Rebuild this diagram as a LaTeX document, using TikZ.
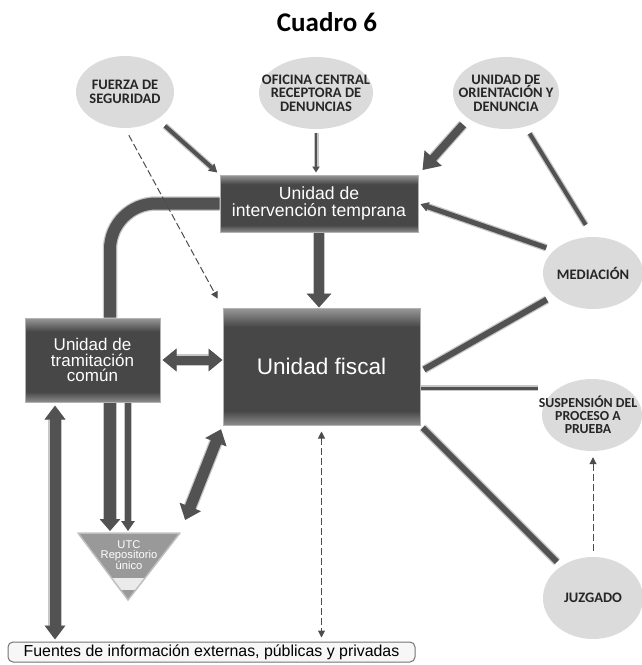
\documentclass[tikz,border=0pt]{standalone}
\usepackage{fontspec}
\setmainfont{Liberation Sans}
\newfontfamily\calfont{Carlito}
\usetikzlibrary{arrows.meta,shapes.geometric}

\pgfdeclareverticalshading{boxshade}{100bp}{color(0bp)=(black!45); color(25bp)=(black!45); color(31bp)=(black!72); color(67bp)=(black!72); color(75bp)=(black!40); color(100bp)=(black!40)}

\tikzset{
  bubble/.style={ellipse, fill=black!14, inner sep=0pt},
  bubbletext/.style={font=\calfont\bfseries\fontsize{14.5}{13.5}\selectfont, align=center, text=black!85, inner sep=0pt},
  darkbox/.style={rectangle, shading=boxshade, draw=black!30, line width=1pt, text=white, align=center, inner sep=0pt},
  fatline/.style={draw=black!68, line width=#1, preaction={draw=black!22, line width=#1+2.5pt}},
  fatline/.default=6pt,
  dashline/.style={draw=black!70, line width=1pt, dash pattern=on 7pt off 3pt},
}

\begin{document}
\begin{tikzpicture}[x=1pt, y=-1pt]

\useasboundingbox (0,0) rectangle (641,665);

\node (title) at (327,22) {\calfont\bfseries\fontsize{27}{27}\selectfont Cuadro 6};

%Bubbles
\node[bubble, minimum width=98pt, minimum height=72pt] (fuerza) at (125,92) {};
\node[bubbletext] (fuerzatext) at (fuerza) {FUERZA DE\\SEGURIDAD};
\node[bubble, minimum width=114pt, minimum height=72pt] (oficina) at (316,93) {};
\node[bubbletext] (oficinatext) at (oficina) {OFICINA CENTRAL\\RECEPTORA DE\\DENUNCIAS};
\node[bubble, minimum width=106pt, minimum height=72pt] (orient) at (506,93) {};
\node[bubbletext] (orienttext) at (orient) {UNIDAD DE\\ORIENTACIÓN Y\\DENUNCIA};
\node[bubble, minimum width=100pt, minimum height=72pt] (mediacion) at (593,273) {};
\node[bubbletext] (mediaciontext) at (mediacion) {MEDIACIÓN};
\node[bubble, minimum width=100pt, minimum height=72pt] (susp) at (592,415) {};
\node[bubbletext, font=\calfont\bfseries\fontsize{13.8}{13}\selectfont] (susptext) at ([xshift=-4pt]susp) {SUSPENSIÓN DEL\\PROCESO A\\PRUEBA};
\node[bubble, minimum width=100pt, minimum height=82pt] (juzgado) at (593,598) {};
\node[bubbletext] (juzgadotext) at (juzgado) {JUZGADO};

%Boxes
\node[darkbox, minimum width=198pt, minimum height=57pt, font=\fontsize{17.6}{17}\selectfont] (uit) at (319,203.5) {Unidad de\\intervención temprana};
\node[darkbox, minimum width=197pt, minimum height=117pt, font=\fontsize{22.6}{22}\selectfont] (fiscal) at (321.5,366.5) {Unidad fiscal};
\node[darkbox, minimum width=135pt, minimum height=84pt, font=\fontsize{17}{15.5}\selectfont] (utc) at (92.5,360) {Unidad de\\tramitación\\común};
\node[rectangle, rounded corners=5pt, fill=black!3, draw=black!55, line width=1pt, minimum width=407pt, minimum height=20pt, inner sep=0pt, font=\fontsize{15.9}{16}\selectfont] (fuentes) at (211.5,652) {Fuentes de información externas, públicas y privadas};

%Repository
\coordinate (repoleft) at (78,533);
\coordinate (reporight) at (180,533);
\coordinate (repotip) at (128,600);
\fill[black!40] (repoleft) -- (reporight) -- (repotip) -- cycle;
\begin{scope}
\clip (repoleft) -- (reporight) -- (repotip) -- cycle;
\fill[black!8] (70,578) rectangle (190,590);
\end{scope}
\draw[black!25, line width=1.5pt, line join=round] (repoleft) -- (reporight) -- (repotip) -- cycle;
\node[font=\fontsize{11.2}{10}\selectfont, text=white, align=center, inner sep=0pt] (repotext) at (129,555) {UTC\\Repositorio\\único};

%Free ends
\coordinate (curvefoot) at (110,531);
\coordinate (thinfoot) at (128,531);
\coordinate (lft) at (55,400);
\coordinate (suspend) at (538,388);

%Arrows into the first box
\draw[fatline=4pt, -{Triangle[length=8pt,width=9pt]}, shorten <=10pt, shorten >=3pt] (fuerza.-40) -- (uit.north west);
\draw[fatline=2.5pt, -{Triangle[length=6pt,width=7pt]}, shorten <=4pt, shorten >=2pt] (oficina.south) -- (uit.north -| oficina.south);
\draw[fatline=8pt, -{Triangle[length=16pt,width=22pt]}, shorten <=8pt, shorten >=6pt] (orient.south west) -- (uit.north east);
\draw[fatline=4pt, shorten <=8pt, shorten >=14pt] (orient.-60) -- (mediacion.north);
\draw[fatline=5pt, -{Triangle[length=8pt,width=9pt]}, shorten <=8pt, shorten >=2pt] (mediacion.150) -- (uit.east);
\draw[fatline=10pt, -{Triangle[length=14pt,width=24pt]}] (uit.south) -- (uit.south |- fiscal.north);

%Left side
\draw[fatline=12pt, rounded corners=46pt] (uit.west) -| (utc.north -| curvefoot);
\draw[fatline=12pt, -{Triangle[length=12pt,width=20pt]}] (utc.south -| curvefoot) -- (curvefoot);
\draw[fatline=6pt, -{Triangle[length=10pt,width=13pt]}] (utc.south -| thinfoot) -- (thinfoot);
\draw[fatline=11pt, {Triangle[length=14pt,width=20pt]}-{Triangle[length=14pt,width=20pt]}, shorten <=3pt, shorten >=2pt] (utc.south -| lft) -- (fuentes.north -| lft);
\draw[fatline=9pt, {Triangle[length=14pt,width=22pt]}-{Triangle[length=14pt,width=22pt]}, shorten <=2pt] (utc.east) -- (utc.east -| fiscal.west);
\draw[fatline=11pt, {Triangle[length=14pt,width=22pt]}-{Triangle[length=14pt,width=22pt]}, shorten <=4pt, shorten >=14pt] (fiscal.south west) -- (reporight);

%Dashed
\draw[dashline, -{Triangle[length=7pt,width=7pt]}, shorten <=8pt, shorten >=10pt] (fuerza.south) -- (fiscal.north west);
\draw[dashline, {Triangle[length=7pt,width=7pt]}-{Triangle[length=7pt,width=7pt]}, shorten <=6pt, shorten >=4pt] (fiscal.south) -- (fuentes.north -| fiscal.south);
\draw[dashline, -{Triangle[length=7pt,width=7pt]}, shorten <=6pt, shorten >=6pt] (juzgado.north) -- (susp.south -| juzgado.north);

%Right side
\draw[fatline=6pt, shorten <=4pt, shorten >=8pt] ([yshift=-5pt]fiscal.east) -- (mediacion.210);
\draw[fatline=3pt] (fiscal.east |- suspend) -- (suspend);
\draw[fatline=6pt, shorten <=3pt, shorten >=6pt] (fiscal.south east) -- (juzgado.135);

\end{tikzpicture}
\end{document}
